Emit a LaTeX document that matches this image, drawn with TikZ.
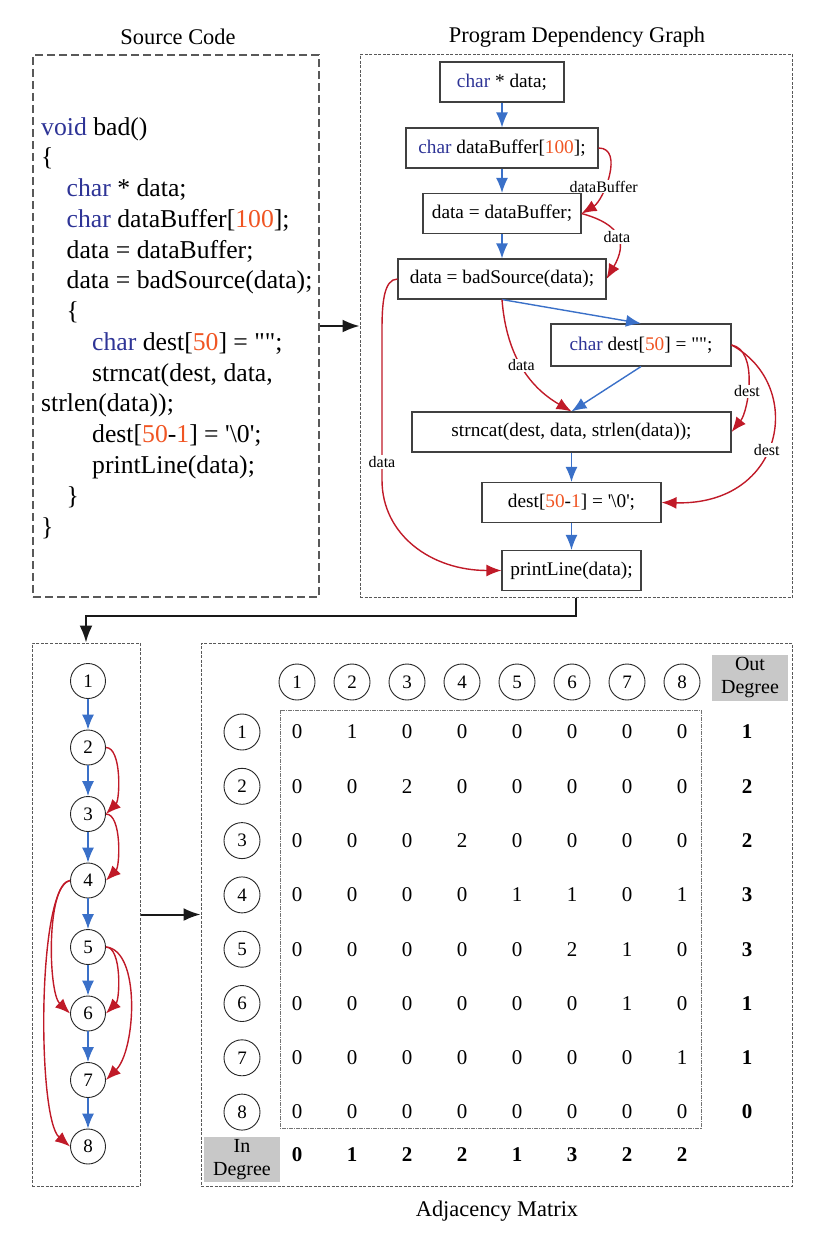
\documentclass[tikz,border=0pt]{standalone}
\usepackage{fontspec}
\setmainfont{Liberation Serif}[Ligatures=TeXOff]
\usetikzlibrary{arrows.meta,positioning}

\definecolor{kwblue}{RGB}{46,52,150}
\definecolor{numred}{RGB}{240,85,35}
\definecolor{ctrlblue}{RGB}{58,112,200}
\definecolor{depred}{RGB}{192,26,40}
\definecolor{hdrgray}{RGB}{200,200,200}

\newcommand{\kwd}[1]{\textcolor{kwblue}{#1}}
\newcommand{\nmb}[1]{\textcolor{numred}{#1}}

\tikzset{
	ttl/.style={font=\fontsize{22.4}{26}\selectfont},
	code/.style={inner sep=0pt, font=\fontsize{25.7}{30.8}\selectfont},
	stmt/.style={draw=black!75, line width=1.1pt, minimum height=40pt, inner sep=0pt, font=\fontsize{19.3}{23}\selectfont},
	lbl/.style={fill=white, inner sep=1pt, font=\fontsize{16}{18}\selectfont},
	vtx/.style={circle, draw=black!85, line width=0.9pt, minimum size=35pt, inner sep=0pt, font=\fontsize{19}{22}\selectfont},
	cell/.style={font=\fontsize{21}{24}\selectfont},
	deg/.style={font=\fontsize{21}{24}\selectfont\bfseries},
	hdr/.style={fill=hdrgray, align=center, inner sep=0pt, font=\fontsize{20}{23}\selectfont},
	ctrl/.style={draw=ctrlblue, line width=1.4pt, ->},
	dep/.style={draw=depred, line width=1.4pt, ->},
	flow/.style={draw=black!90, line width=2pt, -{Latex[length=17pt,width=13pt]}},
	srcframe/.style={draw=black!65, line width=1.3pt, dash pattern=on 8pt off 4pt},
	frame/.style={draw=black!65, line width=1pt, dash pattern=on 3pt off 1.5pt},
	innerframe/.style={draw=black!55, line width=1pt, dash pattern=on 4pt off 1pt on 1pt off 1pt}
}

\begin{document}
\begin{tikzpicture}[x=1pt,y=-1pt,>={Latex[length=15pt,width=12pt]}]
\useasboundingbox (0,0) rectangle (827,1242);

% titles
\node[ttl] (ttlsrc) at (178,37) {Source Code};
\node[ttl] (ttlpdg) at (577,37) {Program Dependency Graph};
\node[ttl] (ttladj) at (497,1211) {Adjacency Matrix};

% frames
\node[srcframe, minimum width=286pt, minimum height=542pt] (srcbox) at (176,326) {};
\node[frame, minimum width=432pt, minimum height=543pt] (pdgbox) at (576,326) {};
\node[frame, minimum width=108pt, minimum height=543pt] (grbox) at (86,914.5) {};
\node[frame, minimum width=591pt, minimum height=543pt] (adjbox) at (496.5,914.5) {};

% source code
\foreach \ind/\txt [count=\k] in {
	0/{\kwd{void} bad()},
	0/{\{},
	1/{\kwd{char} * data;},
	1/{\kwd{char} dataBuffer[\nmb{100}];},
	1/{data = dataBuffer;},
	1/{data = badSource(data);},
	1/{\{},
	2/{\kwd{char} dest[\nmb{50}] = "";},
	2/{strncat(dest, data,},
	0/{strlen(data));},
	2/{dest[\nmb{50}-\nmb{1}] = '\textbackslash0';},
	2/{printLine(data);},
	1/{\}},
	0/{\}}} {
	\node[code, anchor=base west] (code\k) at ({41+25.5*\ind},{135+30.77*(\k-1)}) {\txt};
}

% program dependency graph
\node[stmt, minimum width=124pt] (n1) at (502,82) {\kwd{char} * data;};
\node[stmt, minimum width=192pt] (n2) at (502,148) {\kwd{char} dataBuffer[\nmb{100}];};
\node[stmt, minimum width=158pt] (n3) at (502,213.5) {data = dataBuffer;};
\node[stmt, minimum width=208pt] (n4) at (502,279) {data = badSource(data);};
\node[stmt, minimum width=180pt, minimum height=42pt] (n5) at (641,345) {\kwd{char} dest[\nmb{50}] = "";};
\node[stmt, minimum width=319pt] (n6) at (571.5,432) {strncat(dest, data, strlen(data));};
\node[stmt, minimum width=179pt] (n7) at (571.5,502.5) {dest[\nmb{50}-\nmb{1}] = '\textbackslash0';};
\node[stmt, minimum width=139pt] (n8) at (571.5,570.5) {printLine(data);};

\draw[ctrl] (n1) -- (n2);
\draw[ctrl] (n2) -- (n3);
\draw[ctrl] (n3) -- (n4);
\draw[ctrl] (n4.south) -- (n5.north);
\draw[ctrl] (n5.south) -- (n6.north);
\draw[ctrl] (n6) -- (n7);
\draw[ctrl] (n7) -- (n8);

\draw[dep] (n2.east) .. controls +(26,0) and +(22,-13) .. node[lbl, pos=0.62] {dataBuffer} (n3.east);
\draw[dep] (n3.east) .. controls +(40,11) and +(21,-36) .. node[lbl, pos=0.5] {data} (n4.east);
\draw[dep] (n4.south) .. controls +(4,52) and +(-45,-26) .. node[lbl, pos=0.5] {data} (n6.north);
\draw[dep] (n4.west) .. controls +(-14,0) and +(0,-25) .. (382,330) -- node[lbl, pos=0.88] {data} (382,480) .. controls +(0,55) and +(-70,0) .. (n8.west);
\draw[dep] (n5.east) .. controls +(27,5) and +(17,-21) .. node[lbl, pos=0.58] {dest} (n6.east);
\draw[dep] (n5.east) .. controls +(74,40) and +(124,3) .. node[lbl, pos=0.55] {dest} (n7.east);

% between the panels
\draw[flow] (srcbox.east) -- (pdgbox.west);
\draw[flow] (pdgbox.south) -- ++(0,18) -| (grbox.north);
\draw[flow] (grbox.east) -- (adjbox.west);

% small graph
\foreach \i in {1,...,8} {
	\node[vtx] (v\i) at (88,{681+66.5*(\i-1)}) {\i};
}
\foreach \i in {1,...,7} {
	\pgfmathsetmacro{\nxt}{int(\i+1)}
	\draw[ctrl] (v\i) -- (v\nxt);
}
\draw[dep] (v2.east) .. controls +(16,0) and +(14,-14) .. (v3.east);
\draw[dep] (v3.east) .. controls +(16,0) and +(14,-14) .. (v4.east);
\draw[dep] (v4.west) .. controls +(-24,3) and +(-22,-21) .. (v6.west);
\draw[dep] (v4.west) .. controls +(-33,5) and +(-33,-28) .. (v8.west);
\draw[dep] (v5.east) .. controls +(16,0) and +(14,-14) .. (v6.east);
\draw[dep] (v5.east) .. controls +(35,3) and +(30,-30) .. (v7.east);

% adjacency matrix
\foreach \j in {1,...,8} {
	\node[vtx, minimum size=36pt] (col\j) at ({297+55*(\j-1)},682) {\j};
}
\foreach \i in {1,...,8} {
	\node[vtx, minimum size=36pt] (row\i) at (242,{732+54.3*(\i-1)}) {\i};
}
\draw[innerframe] (280,710) rectangle (701,1128);
\foreach \rowvals [count=\i] in {{0,1,0,0,0,0,0,0},{0,0,2,0,0,0,0,0},{0,0,0,2,0,0,0,0},{0,0,0,0,1,1,0,1},
	{0,0,0,0,0,2,1,0},{0,0,0,0,0,0,1,0},{0,0,0,0,0,0,0,1},{0,0,0,0,0,0,0,0}} {
	\foreach \v [count=\j] in \rowvals {
		\node[cell] (m\i-\j) at ({297+55*(\j-1)},{732+54.3*(\i-1)}) {\v};
	}
}
\node[hdr, minimum width=76pt, minimum height=46pt] (outhdr) at (750,678) {Out\\Degree};
\node[hdr, minimum width=76pt, minimum height=45pt] (inhdr) at (242,1159.5) {In\\Degree};
\foreach \v [count=\i] in {1,2,2,3,3,1,1,0} {
	\node[deg] (out\i) at (747,{732+54.3*(\i-1)}) {\v};
}
\foreach \v [count=\j] in {0,1,2,2,1,3,2,2} {
	\node[deg] (in\j) at ({297+55*(\j-1)},1155) {\v};
}

\end{tikzpicture}
\end{document}
